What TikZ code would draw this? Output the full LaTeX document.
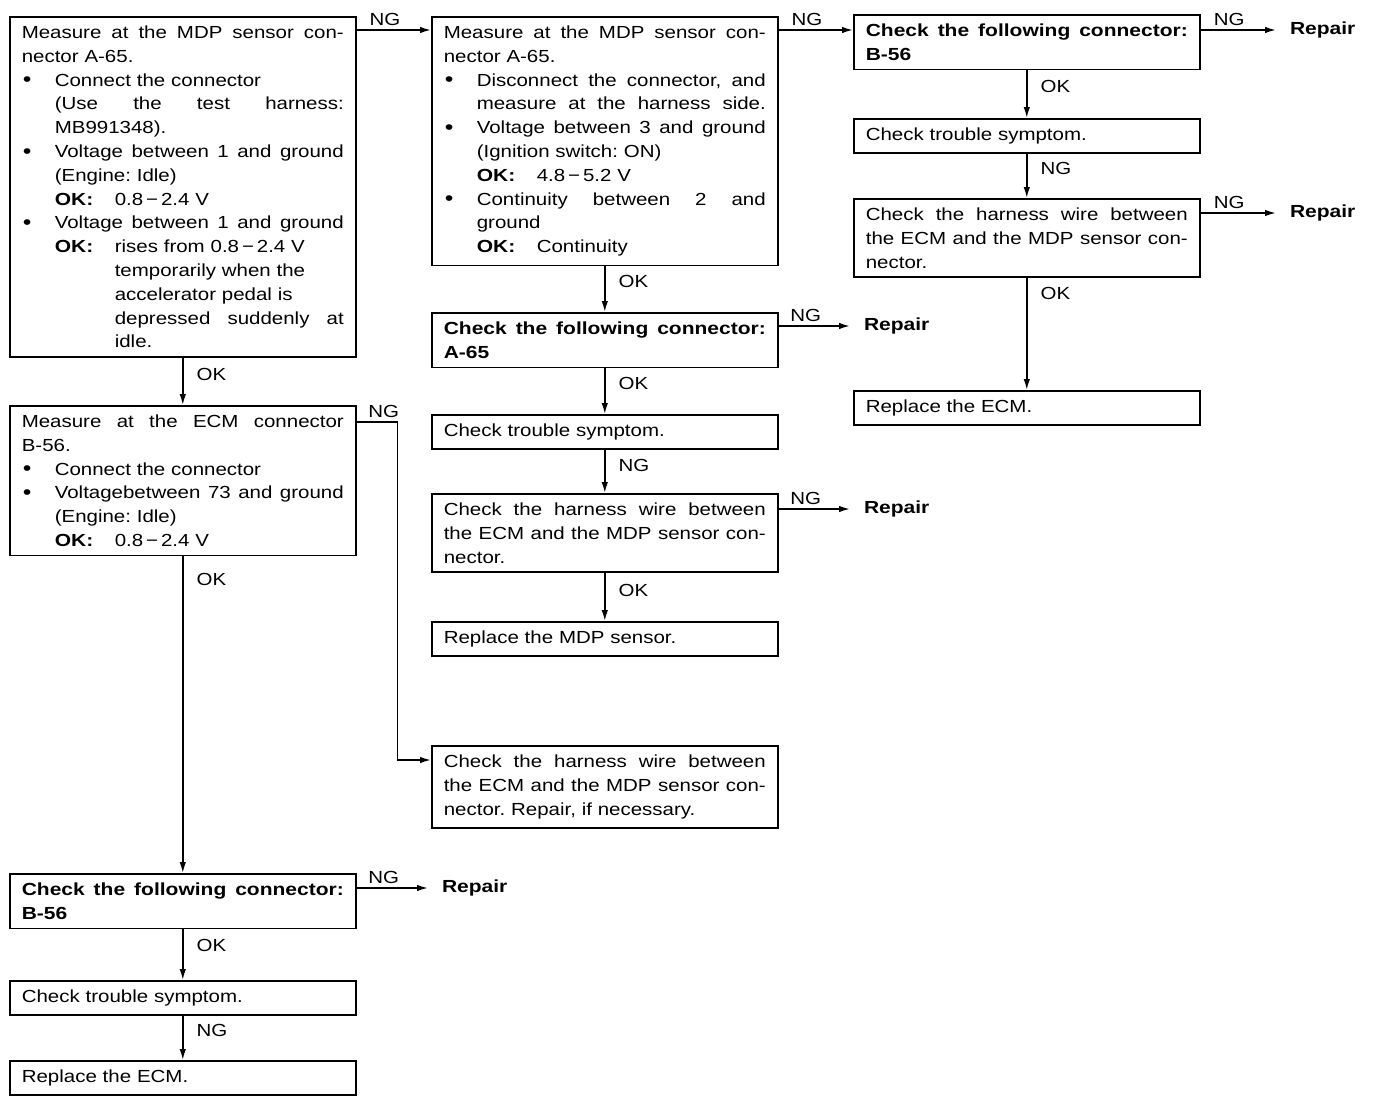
\documentclass[tikz,border=0pt]{standalone}
\usepackage{fontspec}
\setmainfont{Liberation Sans}[FakeStretch=1.17,BoldFeatures={FakeStretch=1.2}]
\usetikzlibrary{positioning,arrows.meta}
\newcommand{\marca}{\makebox[33pt][l]{\hspace{1pt}\raisebox{-0.8pt}{\fontsize{21}{21}\selectfont\textbullet}}}
\newcommand{\recuo}{\hspace*{33pt}}
\newcommand{\cheia}[1]{\makebox[322pt][s]{\spaceskip=0pt\xspaceskip=0pt #1}}
\newcommand{\cheiar}[1]{\makebox[289pt][s]{\spaceskip=0pt\xspaceskip=0pt #1}}
\newcommand{\okc}{\makebox[60pt][l]{\textbf{OK:}}}
\begin{document}
\begin{tikzpicture}[x=1pt,y=-1pt,
  bloco/.style={rectangle,draw,line width=1.6pt,anchor=north west,text width=322pt,align=left,inner xsep=12pt,inner ysep=9pt,font=\fontsize{17.5}{23.8}\selectfont\frenchspacing},
  negrito/.style={bloco,font=\fontsize{17.5}{23.8}\selectfont\bfseries},
  seta/.style={-{Latex[length=11pt,width=6.5pt]},line width=1.6pt},
  rot/.style={font=\fontsize{17.5}{20}\selectfont,inner sep=1pt},
  reparo/.style={anchor=west,inner xsep=14pt,inner ysep=1pt,outer sep=0pt,font=\fontsize{17.5}{20}\selectfont\bfseries}]
\useasboundingbox[fill=white] (0,0) rectangle (1376,1100);
\node[bloco] (m1) at (9,16) {\cheia{Measure at the MDP sensor con-}\\nector A-65.\\
  \marca Connect the connector\\\recuo\cheiar{(Use the test harness:}\\\recuo MB991348).\\
  \marca\cheiar{Voltage between 1 and ground}\\\recuo(Engine: Idle)\\\recuo\okc 0.8\,−\,2.4 V\\
  \marca\cheiar{Voltage between 1 and ground}\\\recuo\okc rises from 0.8\,−\,2.4 V\\
  \hspace*{93pt}temporarily when the\\\hspace*{93pt}accelerator pedal is\\
  \hspace*{93pt}\makebox[229pt][s]{\spaceskip=0pt depressed suddenly at}\\\hspace*{93pt}idle.};
\node[bloco] (e1) at (9,405) {\cheia{Measure at the ECM connector}\\B-56.\\
  \marca Connect the connector\\\marca\cheiar{Voltagebetween 73 and ground}\\
  \recuo(Engine: Idle)\\\recuo\okc 0.8\,−\,2.4 V};
\node[negrito] (c3) at (9,873) {\cheia{Check the following connector:}\\B-56};
\node[bloco] (ts3) at (9,980) {Check trouble symptom.};
\node[bloco] (re3) at (9,1060) {Replace the ECM.};
\node[bloco] (m2) at (431,16) {\cheia{Measure at the MDP sensor con-}\\nector A-65.\\
  \marca\cheiar{Disconnect the connector, and}\\\recuo\cheiar{measure at the harness side.}\\
  \marca\cheiar{Voltage between 3 and ground}\\\recuo(Ignition switch: ON)\\\recuo\okc 4.8\,−\,5.2 V\\
  \marca\cheiar{Continuity between 2 and}\\\recuo ground\\\recuo\okc Continuity};
\node[negrito] (a1) at (431,312) {\cheia{Check the following connector:}\\A-65};
\node[bloco] (ts2) at (431,414) {Check trouble symptom.};
\node[bloco] (h2) at (431,493) {\cheia{Check the harness wire between}\\\cheia{the ECM and the MDP sensor con-}\\nector.};
\node[bloco] (rm) at (431,621) {Replace the MDP sensor.};
\node[bloco] (h3) at (431,745) {\cheia{Check the harness wire between}\\\cheia{the ECM and the MDP sensor con-}\\nector. Repair, if necessary.};
\node[negrito] (c1) at (853,14) {\cheia{Check the following connector:}\\B-56};
\node[bloco] (ts1) at (853,118) {Check trouble symptom.};
\node[bloco] (h1) at (853,198) {\cheia{Check the harness wire between}\\\cheia{the ECM and the MDP sensor con-}\\nector.};
\node[bloco] (re1) at (853,390) {Replace the ECM.};
\node[reparo] (r1) at (1276,30) {Repair};
\node[reparo] (r2) at (1276,213) {Repair};
\node[reparo] (r3) at (850,326) {Repair};
\node[reparo] (r4) at (850,509) {Repair};
\node[reparo] (r5) at (428,888) {Repair};
\foreach \a/\b/\t/\p in {m1/e1/OK/.36,e1/c3/OK/.073,c3/ts3/OK/.32,ts3/re3/NG/.34,m2/a1/OK/.34,a1/ts2/OK/.33,ts2/h2/NG/.36,h2/rm/OK/.37,c1/ts1/OK/.35,ts1/h1/NG/.34,h1/re1/OK/.14}
  \draw[seta] (\a.south) -- node[rot,right=12pt,pos=\p]{\t} (\b.north);
\foreach \a/\b in {c1/r1,h1/r2,a1/r3,h2/r4,c3/r5}
  \draw[seta] (\b.west -| \a.east) -- node[rot,above=3pt,pos=.38]{NG} (\b.west);
\coordinate (s1) at ([yshift=-14pt]m1.north east);
\coordinate (s2) at ([yshift=-14pt]m2.north east);
\coordinate (s3) at ([yshift=-17pt]e1.north east);
\coordinate (s4) at ([yshift=-15pt]h3.north west);
\draw[seta] (s1) -- node[rot,above=3pt,pos=.38]{NG} (s1 -| m2.west);
\draw[seta] (s2) -- node[rot,above=3pt,pos=.38]{NG} (s2 -| c1.west);
\draw[seta] (s3) -- node[rot,above=3pt,pos=.66]{NG} ++(41,0) |- (s4);
\end{tikzpicture}
\end{document}
